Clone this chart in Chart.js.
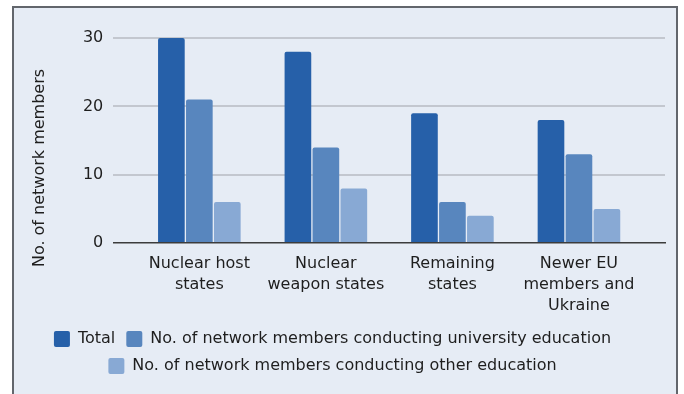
<!DOCTYPE html>
<html>
<head>
<meta charset="utf-8">
<script src="https://cdn.jsdelivr.net/npm/chart.js@4.4.1/dist/chart.umd.min.js"></script>
<style>
  html, body { margin: 0; padding: 0; background: #ffffff; }
  body { width: 684px; height: 394px; position: relative; overflow: hidden; }
  #frame {
    position: absolute; left: 12px; top: 6px; width: 662px; height: 400px;
    border: 2px solid #62666c; background: #e6ecf5;
  }
  #wrap { position: absolute; left: 0; top: 0; width: 684px; height: 394px; }
</style>
</head>
<body>
<div id="frame"></div>
<div id="wrap"><canvas id="chart" width="684" height="394"></canvas></div>
<script>
// Categories (multi-line labels) and series values
const categories = [
  ['Nuclear host', 'states'],
  ['Nuclear', 'weapon states'],
  ['Remaining', 'states'],
  ['Newer EU', 'members and', 'Ukraine']
];
const seriesNames = [
  'Total',
  'No. of network members conducting university education',
  'No. of network members conducting other education'
];
const totalValues = [30, 28, 19, 18];
const universityValues = [21, 14, 6, 13];
const otherValues = [6, 8, 4, 5];
const yTicks = [0, 10, 20, 30];
const yTitle = 'No. of network members';

const colors = ['#2660a9', '#5886be', '#88a9d4'];
const FONT = "'DejaVu Sans', Verdana, sans-serif";
const TEXT = '#1e1e1e';

const toPoints = vals => vals.map((v, i) => ({ x: i, y: v }));
const seriesValues = [totalValues, universityValues, otherValues];

const datasets = seriesValues.map((vals, k) => ({
  label: seriesNames[k],
  data: toPoints(vals),
  backgroundColor: colors[k],
  borderWidth: 0,
  borderRadius: { topLeft: 2, topRight: 2 },
  borderSkipped: 'bottom',
  categoryPercentage: 0.663,
  barPercentage: 0.953
}));

// Rotated y-axis caption, placed beside the tick labels
const axisCaption = {
  id: 'axisCaption',
  afterDraw(chart) {
    const { ctx } = chart;
    ctx.save();
    ctx.translate(40, 168);
    ctx.rotate(-Math.PI / 2);
    ctx.font = '16px ' + FONT;
    ctx.fillStyle = TEXT;
    ctx.textAlign = 'center';
    ctx.textBaseline = 'middle';
    ctx.fillText(yTitle, 0, 0);
    ctx.restore();
  }
};

new Chart(document.getElementById('chart'), {
  type: 'bar',
  data: { datasets },
  plugins: [axisCaption],
  options: {
    responsive: false,
    animation: false,
    layout: { padding: { top: 38, left: 0, right: 19, bottom: 10 } },
    plugins: {
      tooltip: { enabled: false },
      legend: {
        position: 'bottom',
        labels: {
          boxWidth: 16,
          boxHeight: 16,
          padding: 11,
          color: TEXT,
          font: { family: FONT, size: 16 },
          useBorderRadius: true,
          borderRadius: 2
        }
      }
    },
    scales: {
      x: {
        type: 'linear',
        offset: false,
        min: -0.68,
        max: 3.68,
        afterBuildTicks: s => { s.ticks = categories.map((c, i) => ({ value: i })); },
        afterFit: s => { s.height -= 6; },
        grid: { display: false, drawTicks: false, offset: false },
        border: { display: true, color: '#3c3c3c', width: 1.5 },
        ticks: {
          padding: 10,
          autoSkip: false,
          maxRotation: 0,
          color: TEXT,
          font: { family: FONT, size: 16, lineHeight: 1.31 },
          callback: v => categories[v] || ''
        }
      },
      y: {
        min: 0,
        max: 30,
        afterBuildTicks: s => { s.ticks = yTicks.map(v => ({ value: v })); },
        afterFit: s => { s.width = 113.3; },
        border: { display: false },
        grid: {
          drawTicks: false,
          color: c => (c.tick && c.tick.value === 0) ? 'rgba(0,0,0,0)' : '#c3c7cf',
          lineWidth: 2
        },
        ticks: {
          padding: 10,
          color: TEXT,
          font: { family: FONT, size: 16 }
        }
      }
    }
  }
});
</script>
</body>
</html>
